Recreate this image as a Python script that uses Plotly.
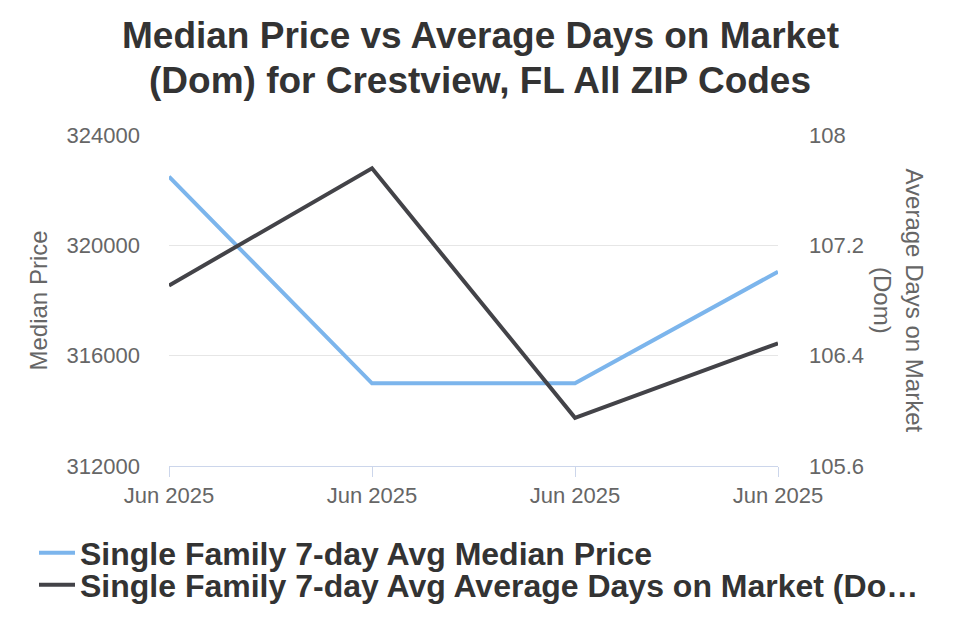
import plotly.graph_objects as go

x_labels = ["Jun 2025", "Jun 2025", "Jun 2025", "Jun 2025"]
x_pos = [0, 1, 2, 3]
median_price = [322500, 315000, 315000, 319050]
avg_dom = [106.91, 107.76, 105.95, 106.49]

title_lines = ["Median Price vs Average Days on Market", "(Dom) for Crestview, FL All ZIP Codes"]
left_title = "Median Price"
right_title = "Average Days on Market<br>(Dom)"

W, H = 960, 640
L, R, T, B = 169, 778, 135, 466


def px_x(p):
    return (p - L) / (R - L)


def px_y(p):
    return (B - p) / (B - T)


FONT = "Liberation Sans, Arial, sans-serif"

fig = go.Figure()
fig.add_trace(go.Scatter(
    x=x_pos, y=median_price, mode="lines",
    name="Single Family 7-day Avg Median Price",
    line=dict(color="#7cb5ec", width=4),
    yaxis="y", legend="legend",
))
fig.add_trace(go.Scatter(
    x=x_pos, y=avg_dom, mode="lines",
    name="Single Family 7-day Avg Average Days on Market (Do…",
    line=dict(color="#434348", width=4),
    yaxis="y2", legend="legend2",
))

legend_font = dict(size=32, color="#333333", family=FONT, weight="bold")

annotations = [
    dict(text="<b>%s</b>" % title_lines[0], x=px_x(480), y=px_y(35.5), xref="paper", yref="paper",
         xanchor="center", yanchor="middle", showarrow=False, font=dict(size=37, color="#333333", family=FONT)),
    dict(text="<b>%s</b>" % title_lines[1], x=px_x(480), y=px_y(80.5), xref="paper", yref="paper",
         xanchor="center", yanchor="middle", showarrow=False, font=dict(size=37, color="#333333", family=FONT)),
    dict(text=left_title, x=px_x(38), y=0.5, xref="paper", yref="paper", textangle=-90,
         xanchor="center", yanchor="middle", showarrow=False, font=dict(size=24, color="#666666", family=FONT)),
    dict(text=right_title, x=px_x(899), y=0.5, xref="paper", yref="paper", textangle=90,
         xanchor="center", yanchor="middle", showarrow=False, font=dict(size=24, color="#666666", family=FONT)),
]

fig.update_layout(
    width=W, height=H,
    margin=dict(l=L, r=W - R, t=T, b=H - B, autoexpand=False),
    paper_bgcolor="white", plot_bgcolor="white",
    font=dict(family=FONT, color="#666666"),
    annotations=annotations,
    xaxis=dict(
        range=[0, 3], tickvals=x_pos, ticktext=x_labels,
        showgrid=False, zeroline=False, automargin=False,
        showline=True, linecolor="#ccd6eb", linewidth=1,
        ticks="outside", ticklen=10, tickcolor="#ccd6eb",
        tickfont=dict(size=22, color="#666666"),
    ),
    yaxis=dict(
        range=[312000, 324010], tickvals=[312000, 316000, 320000, 324000],
        ticktext=["312000", "316000", "320000", "324000"], automargin=False,
        showgrid=True, gridcolor="#e6e6e6", gridwidth=1, zeroline=False,
        tickfont=dict(size=22, color="#666666"), ticks="", ticklabelstandoff=28,
    ),
    yaxis2=dict(
        range=[105.6, 108.002], tickvals=[105.6, 106.4, 107.2, 108],
        ticktext=["105.6", "106.4", "107.2", "108"], automargin=False,
        overlaying="y", side="right", showgrid=False, zeroline=False,
        tickfont=dict(size=22, color="#666666"), ticklabelstandoff=30,
    ),
    showlegend=True,
    legend=dict(
        xref="container", yref="container",
        x=34 / W, xanchor="left", y=1 - 553 / H, yanchor="middle",
        font=legend_font, itemwidth=36, bgcolor="rgba(0,0,0,0)",
    ),
    legend2=dict(
        xref="container", yref="container",
        x=34 / W, xanchor="left", y=1 - 585 / H, yanchor="middle",
        font=legend_font, itemwidth=36, bgcolor="rgba(0,0,0,0)",
    ),
)

fig.write_html("out.html")
